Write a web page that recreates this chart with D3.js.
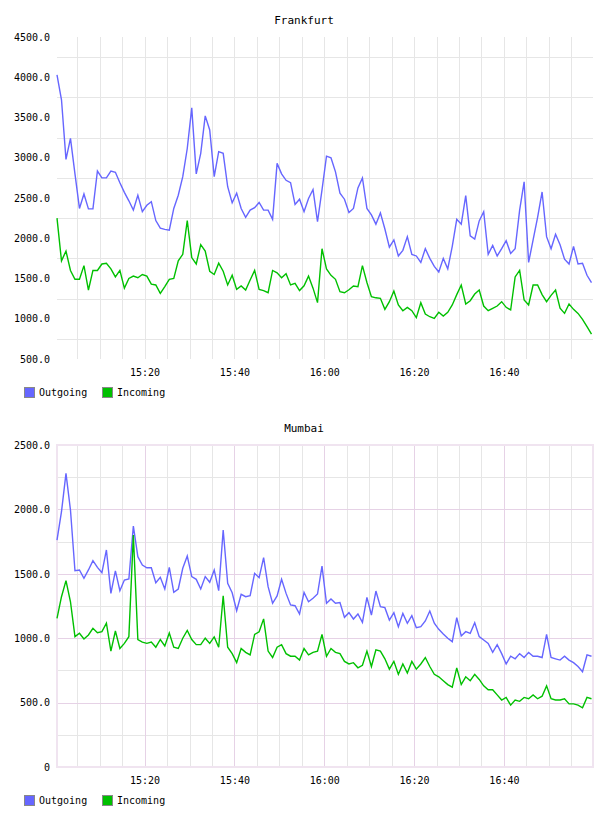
<!DOCTYPE html>
<html>
<head>
<meta charset="utf-8">
<script src="https://cdn.jsdelivr.net/npm/d3@7"></script>
<style>
  body { margin: 0; background: #fff; }
  svg text { font-family: "DejaVu Sans Mono", monospace; fill: #000; }
</style>
</head>
<body>
<div id="plot"></div>
<script>
// one sample per minute, first sample at 15:00:30
var startTime = new Date(2020, 0, 1, 15, 0, 30);

var seriesNames = ["Outgoing", "Incoming"];
var seriesColors = ["#6666ff", "#00c000"];

var frankfurtOut = [4030, 3720, 2980, 3240, 2800, 2370, 2550, 2365, 2365, 2835, 2750, 2750, 2835, 2820, 2690, 2570, 2465, 2350, 2535, 2330,
  2410, 2455, 2220, 2125, 2110, 2100, 2370, 2535, 2765, 3115, 3620, 2800, 3055, 3520, 3345, 2765, 3075, 3055, 2640, 2440,
  2560, 2370, 2260, 2350, 2380, 2445, 2350, 2350, 2235, 2930, 2800, 2720, 2690, 2420, 2485, 2330, 2495, 2605, 2205, 2600,
  3020, 3000, 2825, 2560, 2485, 2320, 2370, 2625, 2750, 2370, 2290, 2175, 2315, 2115, 1890, 1980, 1780, 1850, 2020, 1800,
  1780, 1700, 1870, 1750, 1650, 1580, 1750, 1620, 1900, 2235, 2175, 2530, 2030, 1990, 2215, 2330, 1800, 1910, 1780, 1870,
  1970, 1810, 1870, 2350, 2700, 1700, 1980, 2260, 2575, 2020, 1870, 2050, 1920, 1740, 1680, 1900, 1680, 1690, 1540, 1450];

var frankfurtIn = [2250, 1720, 1840, 1600, 1490, 1490, 1660, 1357, 1600, 1600, 1680, 1690, 1620, 1520, 1600, 1380, 1500, 1530, 1510, 1550,
  1530, 1430, 1420, 1316, 1400, 1490, 1500, 1720, 1800, 2220, 1760, 1680, 1920, 1840, 1590, 1550, 1690, 1590, 1420, 1540,
  1365, 1407, 1357, 1481, 1600, 1365, 1350, 1323, 1600, 1570, 1510, 1560, 1420, 1440, 1350, 1410, 1530, 1380, 1200, 1870,
  1620, 1540, 1490, 1336, 1323, 1360, 1407, 1398, 1660, 1450, 1274, 1260, 1254, 1117, 1212, 1345, 1171, 1100, 1142, 1100,
  1013, 1199, 1059, 1025, 1005, 1080, 1034, 1080, 1171, 1300, 1419, 1183, 1224, 1307, 1357, 1158, 1100, 1130, 1158, 1212,
  1142, 1109, 1520, 1600, 1233, 1171, 1419, 1419, 1300, 1212, 1290, 1357, 1130, 1067, 1183, 1117, 1067, 993, 901, 810];

var mumbaiOut = [1762, 1982, 2280, 1995, 1524, 1530, 1465, 1530, 1602, 1550, 1509, 1685, 1348, 1522, 1369, 1452, 1460, 1871, 1633, 1568,
  1547, 1547, 1431, 1473, 1382, 1550, 1356, 1382, 1543, 1638, 1478, 1457, 1382, 1478, 1434, 1530, 1369, 1840, 1426, 1353,
  1213, 1341, 1322, 1330, 1504, 1470, 1625, 1400, 1271, 1328, 1457, 1348, 1258, 1252, 1188, 1356, 1283, 1310, 1343, 1560,
  1271, 1304, 1271, 1276, 1162, 1198, 1149, 1188, 1123, 1317, 1180, 1366, 1245, 1237, 1141, 1198, 1089, 1193, 1116, 1175,
  1082, 1089, 1134, 1211, 1116, 1069, 1033, 999, 973, 1159, 1017, 1051, 1038, 1120, 1012, 986, 960, 890, 950, 880,
  800, 860, 840, 880, 850, 890, 860, 860, 850, 1030, 850, 840, 830, 860, 830, 810, 780, 740, 870, 860];

var mumbaiIn = [1154, 1322, 1447, 1283, 1012, 1038, 994, 1025, 1077, 1043, 1051, 1116, 900, 1056, 920, 960, 1012, 1801, 990, 970,
  960, 970, 930, 990, 940, 1040, 930, 920, 1000, 1060, 990, 950, 950, 1000, 960, 1010, 930, 1330, 930, 880,
  810, 920, 890, 870, 1030, 1050, 1150, 900, 850, 930, 950, 880, 860, 860, 830, 920, 870, 890, 900, 1030,
  860, 920, 890, 880, 820, 800, 810, 770, 790, 900, 780, 910, 900, 840, 760, 820, 720, 800, 730, 820,
  760, 800, 850, 780, 720, 700, 670, 640, 620, 770, 640, 700, 670, 720, 680, 630, 600, 600, 560, 520,
  540, 480, 520, 510, 540, 530, 560, 530, 550, 630, 530, 520, 520, 530, 490, 490, 480, 460, 540, 530];

var frankfurtTicks = [500, 1000, 1500, 2000, 2500, 3000, 3500, 4000, 4500];
var mumbaiTicks = [0, 500, 1000, 1500, 2000, 2500];

var width = 608, height = 816;

var svg = d3.select("#plot").append("svg")
    .attr("width", width)
    .attr("height", height);

function drawChart(g, title, outData, inData, yTicks, pink) {
    var left = 57, right = 593, top = 37, bottom = 359;
    var times = outData.map(function(d, i) { return d3.timeMinute.offset(startTime, i); });

    var x = d3.scaleTime()
        .domain([times[0], times[times.length - 1]])
        .range([left, right - 1.5]);
    var y = d3.scaleLinear()
        .domain([yTicks[0], yTicks[yTicks.length - 1]])
        .range([bottom, top]);

    var minorColor = "#e6e6e6";
    var majorColor = pink ? "#e6d2e6" : minorColor;

    // minor horizontal grid (half steps)
    var step = yTicks[1] - yTicks[0];
    var halfTicks = yTicks.slice(0, -1).map(function(v) { return v + step / 2; });
    g.selectAll(".hminor").data(halfTicks).enter().append("line")
        .attr("x1", left).attr("x2", right)
        .attr("y1", function(d) { return Math.round(y(d)) + 0.5; })
        .attr("y2", function(d) { return Math.round(y(d)) + 0.5; })
        .attr("stroke", minorColor);

    // vertical grid every 5 minutes
    var gridTimes = d3.timeMinute.every(5).range(x.domain()[0], x.domain()[1]);
    g.selectAll(".vgrid").data(gridTimes).enter().append("line")
        .attr("x1", function(d) { return Math.round(x(d)) + 0.5; })
        .attr("x2", function(d) { return Math.round(x(d)) + 0.5; })
        .attr("y1", top).attr("y2", bottom)
        .attr("stroke", function(d) { return d.getMinutes() % 20 === 0 ? majorColor : minorColor; });

    if (pink) {
        g.selectAll(".hmajor").data(yTicks).enter().append("line")
            .attr("x1", left).attr("x2", right)
            .attr("y1", function(d) { return Math.round(y(d)) + 0.5; })
            .attr("y2", function(d) { return Math.round(y(d)) + 0.5; })
            .attr("stroke", majorColor);
        g.append("rect")
            .attr("x", left).attr("y", top)
            .attr("width", right - left).attr("height", bottom - top)
            .attr("fill", "none")
            .attr("stroke", "#f0e4f0")
            .attr("stroke-width", 2);
    }

    // lines
    [outData, inData].forEach(function(data, k) {
        var line = d3.line()
            .x(function(d, i) { return x(times[i]); })
            .y(function(d) { return y(d); });
        g.append("path")
            .datum(data)
            .attr("d", line)
            .attr("fill", "none")
            .attr("stroke", seriesColors[k])
            .attr("stroke-width", 1.4);
    });

    // axes
    var yAxis = d3.axisLeft(y)
        .tickValues(yTicks)
        .tickSize(0)
        .tickPadding(7)
        .tickFormat(function(d) { return d === 0 ? "0" : d3.format(".1f")(d); });
    var ya = g.append("g").attr("transform", "translate(" + left + ",0)").call(yAxis);
    ya.select(".domain").remove();
    ya.selectAll("text").attr("font-size", 10).attr("font-family", "DejaVu Sans Mono").attr("fill", "#000");

    var xAxis = d3.axisBottom(x)
        .ticks(d3.timeMinute.every(20))
        .tickSize(0)
        .tickPadding(10)
        .tickFormat(d3.timeFormat("%H:%M"));
    var xa = g.append("g").attr("transform", "translate(0," + bottom + ")").call(xAxis);
    xa.select(".domain").remove();
    xa.selectAll("text").attr("font-size", 10).attr("font-family", "DejaVu Sans Mono").attr("fill", "#000");

    // title
    g.append("text")
        .attr("x", width / 2)
        .attr("y", 24)
        .attr("text-anchor", "middle")
        .attr("font-size", 11)
        .text(title);

    // legend
    var legendX = [24, 102];
    seriesNames.forEach(function(name, k) {
        g.append("rect")
            .attr("x", legendX[k] + 0.5).attr("y", 387.5)
            .attr("width", 10).attr("height", 10)
            .attr("fill", seriesColors[k])
            .attr("stroke", "#888");
        g.append("text")
            .attr("x", legendX[k] + 15)
            .attr("y", 396)
            .attr("font-size", 10)
            .text(name);
    });
}

drawChart(svg.append("g"), "Frankfurt", frankfurtOut, frankfurtIn, frankfurtTicks, false);
drawChart(svg.append("g").attr("transform", "translate(0,408)"), "Mumbai", mumbaiOut, mumbaiIn, mumbaiTicks, true);
</script>
</body>
</html>
